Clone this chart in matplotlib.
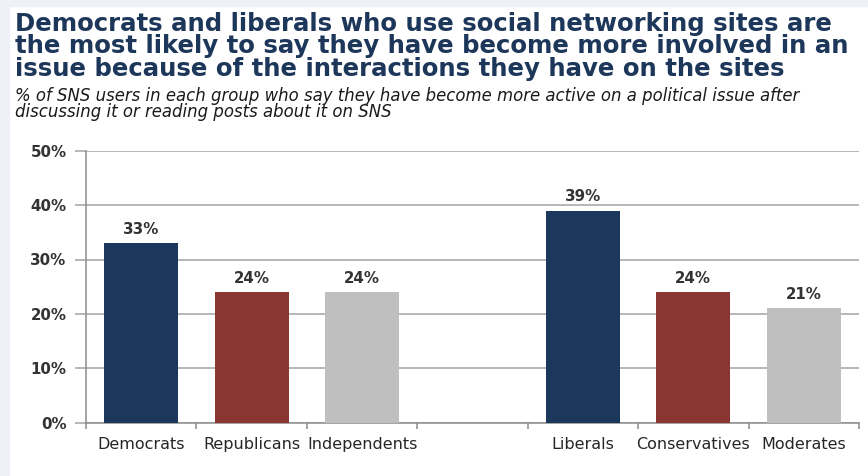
import matplotlib
matplotlib.use('Agg')
import matplotlib.pyplot as plt
from matplotlib.patches import Rectangle
from matplotlib.ticker import FixedLocator, PercentFormatter

# Share of SNS users who became more active on a political issue
groups = ['Democrats', 'Republicans', 'Independents', '', 'Liberals', 'Conservatives', 'Moderates']
values = [33, 24, 24, None, 39, 24, 21]
bar_colors = ['#1B375C', '#8B3533', '#BFBFBF', None, '#1B375C', '#8B3533', '#BFBFBF']

title = ('Democrats and liberals who use social networking sites are\n'
         'the most likely to say they have become more involved in an\n'
         'issue because of the interactions they have on the sites')
subtitle = ('% of SNS users in each group who say they have become more active on a political issue after\n'
            'discussing it or reading posts about it on SNS')

W, H = 868, 476
fig = plt.figure(figsize=(W / 100, H / 100), dpi=100)

# light frame along the top and left edges
fig.patches.append(Rectangle((0, 0), 9 / W, 1, transform=fig.transFigure,
                             color='#EEF2F8', zorder=0))
fig.patches.append(Rectangle((0, 1 - 6 / H), 1, 6 / H, transform=fig.transFigure,
                             color='#EEF2F8', zorder=0))

fig.text(15 / W, 1 - 12 / H, title, ha='left', va='top', fontsize=17.6,
         fontweight='bold', color='#1D375A', family='DejaVu Sans', linespacing=0.92,
         multialignment='left')
fig.text(15 / W, 1 - 87 / H, subtitle, ha='left', va='top', fontsize=11.9,
         style='italic', color='#1A1A1A', family='DejaVu Sans', linespacing=0.88)

left, right, bottom, top = 86, 859, 422.7, 150.7
ax = fig.add_axes([left / W, 1 - bottom / H, (right - left) / W, (bottom - top) / H])

xs = list(range(len(groups)))
for x, v, c in zip(xs, values, bar_colors):
    if v is None:
        continue
    ax.bar(x, v, width=0.67, color=c, zorder=3)
    ax.text(x, v + 1.2, f'{v}%', ha='center', va='bottom', fontsize=10.8,
            fontweight='bold', color='#333333', family='DejaVu Sans')

ax.set_xlim(-0.5, len(groups) - 0.5)
ax.set_ylim(0, 50)
ax.set_yticks(range(0, 51, 10))
ax.yaxis.set_major_formatter(PercentFormatter(decimals=0))
ax.grid(axis='y', color='#A3A3A3', linewidth=1.1, zorder=0)

ax.set_xticks(xs)
ax.set_xticklabels(groups)
ax.xaxis.set_minor_locator(FixedLocator([i - 0.5 for i in range(len(groups) + 1)]))
ax.tick_params(axis='x', which='major', length=0, pad=10, labelsize=11.5,
               labelcolor='#262626')
ax.tick_params(axis='x', which='minor', length=4, width=1.1, color='#8C8C8C', direction='out')
ax.tick_params(axis='y', length=8, width=1.1, color='#A3A3A3', pad=6,
               labelsize=10.8, labelcolor='#333333')
for lbl in ax.get_yticklabels():
    lbl.set_fontweight('bold')

for s in ['top', 'right']:
    ax.spines[s].set_visible(False)
for s in ['left', 'bottom']:
    ax.spines[s].set_color('#8C8C8C')
    ax.spines[s].set_linewidth(1.1)

fig.savefig('out.png', dpi=100)
